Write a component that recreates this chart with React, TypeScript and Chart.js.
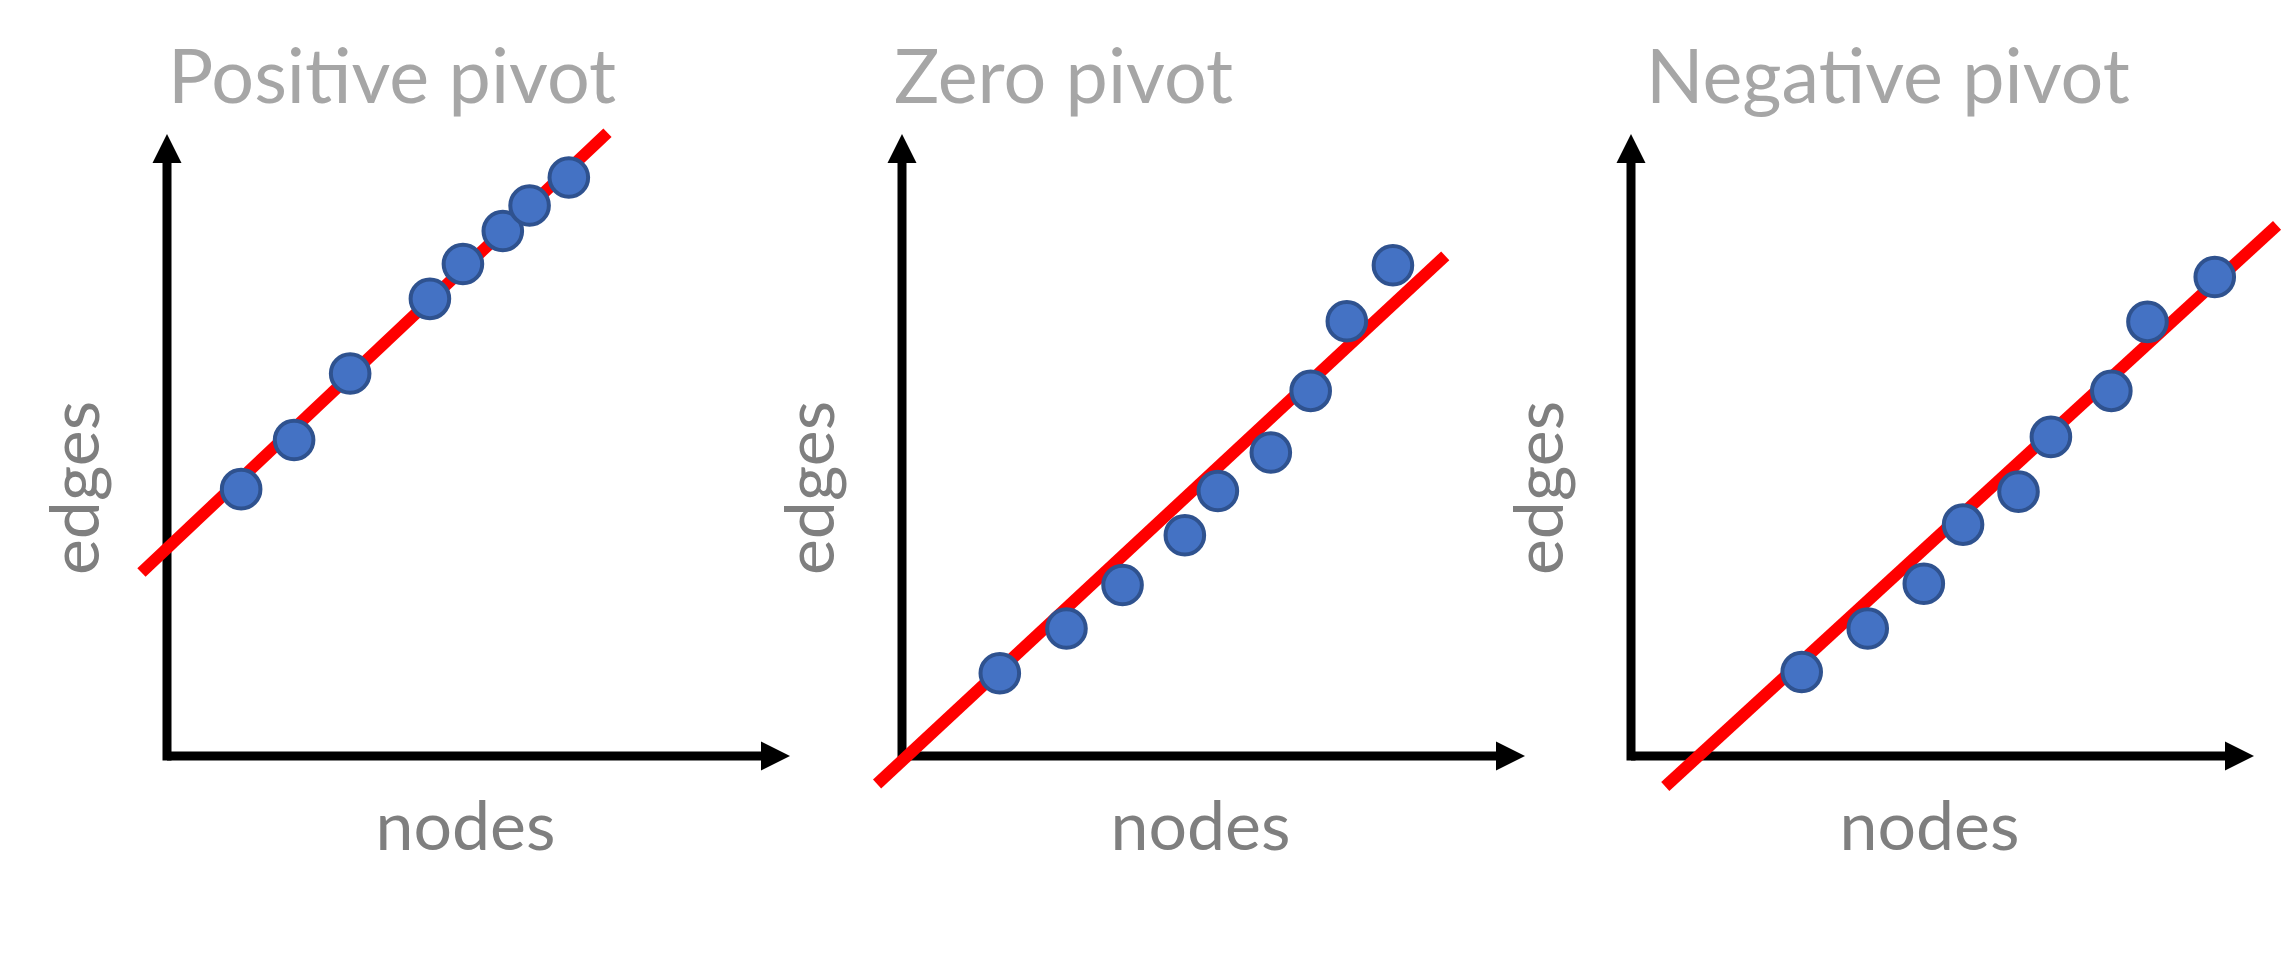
import React, { useEffect, useRef } from "react";
import { Chart, registerables } from "chart.js";

Chart.register(...registerables);

// ---- Data (abstract units; origin = axis intersection, axis length = 10) ----
const TITLES = ["Positive pivot", "Zero pivot", "Negative pivot"];
const X_LABEL = "nodes";
const Y_LABEL = "edges";

const P1_X = [1.19, 2.04, 2.94, 4.22, 4.75, 5.39, 5.82, 6.45];
const P1_Y = [4.29, 5.08, 6.15, 7.35, 7.91, 8.44, 8.85, 9.3];
const FIT1_X = [-0.41, 7.07];
const FIT1_Y = [2.95, 10.02];

const P2_X = [1.57, 2.64, 3.54, 4.54, 5.07, 5.92, 6.56, 7.14, 7.88];
const P2_Y = [1.33, 2.05, 2.75, 3.55, 4.26, 4.88, 5.87, 6.99, 7.89];
const FIT2_X = [-0.4, 8.72];
const FIT2_Y = [-0.45, 8.04];

const P3_X = [2.74, 3.8, 4.7, 5.33, 6.22, 6.74, 7.71, 8.29, 9.37];
const P3_Y = [1.35, 2.05, 2.77, 3.72, 4.25, 5.13, 5.87, 6.98, 7.7];
const FIT3_X = [0.55, 10.37];
const FIT3_Y = [-0.49, 8.53];

const AXIS_MIN = 0;
const AXIS_MAX = 10;

const PANELS = [
  { title: TITLES[0], px: P1_X, py: P1_Y, fx: FIT1_X, fy: FIT1_Y },
  { title: TITLES[1], px: P2_X, py: P2_Y, fx: FIT2_X, fy: FIT2_Y },
  { title: TITLES[2], px: P3_X, py: P3_Y, fx: FIT3_X, fy: FIT3_Y },
];

// ---- Layout / style ----
const CANVAS_H = 976;
const PANEL_LEFT = [0, 735, 1464];
const PANEL_W = [800, 800, 823];
const TITLE_LEFT = [168, 159, 182];
const AREA_LEFT = 167;
const AREA_TOP = 134;
const AREA_W = 623;
const AREA_BOTTOM = 756;
const FONT = "Lato, 'Open Sans', sans-serif";

const zip = (xs: number[], ys: number[]) => xs.map((x, i) => ({ x, y: ys[i] }));

const axesPlugin = {
  id: "arrowAxes",
  beforeDatasetsDraw(chart: any) {
    const { ctx, chartArea, scales } = chart;
    const ox = scales.x.getPixelForValue(AXIS_MIN);
    const oy = scales.y.getPixelForValue(AXIS_MIN);
    const top = chartArea.top;
    const right = chartArea.right;
    const lw = 9;
    const head = 29;
    const half = 14.5;
    ctx.save();
    ctx.fillStyle = "#000000";
    // y axis
    ctx.fillRect(ox - lw / 2, top + head - 1, lw, oy + lw / 2 - (top + head - 1));
    ctx.beginPath();
    ctx.moveTo(ox, top);
    ctx.lineTo(ox + half, top + head);
    ctx.lineTo(ox - half, top + head);
    ctx.closePath();
    ctx.fill();
    // x axis
    ctx.fillRect(ox, oy - lw / 2, right - head + 1 - ox, lw);
    ctx.beginPath();
    ctx.moveTo(right, oy);
    ctx.lineTo(right - head, oy - half);
    ctx.lineTo(right - head, oy + half);
    ctx.closePath();
    ctx.fill();
    ctx.restore();
  },
};

const makeTextPlugin = (idx: number) => ({
  id: "panelText" + idx,
  afterDraw(chart: any) {
    const { ctx, chartArea, scales } = chart;
    const ox = scales.x.getPixelForValue(AXIS_MIN);
    const cx = (chartArea.left + chartArea.right) / 2;
    ctx.save();
    // title
    ctx.fillStyle = "#A6A6A6";
    ctx.font = `75.5px ${FONT}`;
    ctx.textAlign = "left";
    ctx.textBaseline = "alphabetic";
    ctx.fillText(PANELS[idx].title, TITLE_LEFT[idx], 103);
    // x label
    ctx.fillStyle = "#7F7F7F";
    ctx.font = `68px ${FONT}`;
    ctx.textAlign = "center";
    ctx.fillText(X_LABEL, cx - 13, 850);
    // y label
    ctx.translate(ox - 68, 488);
    ctx.rotate(-Math.PI / 2);
    ctx.fillText(Y_LABEL, 0, 0);
    ctx.restore();
  },
});

function Panel({ idx }: { idx: number }) {
  const ref = useRef<HTMLCanvasElement | null>(null);
  useEffect(() => {
    if (!ref.current) return;
    const p = PANELS[idx];
    const w = PANEL_W[idx];
    const chart = new Chart(ref.current, {
      type: "scatter",
      data: {
        datasets: [
          {
            data: zip(p.px, p.py),
            backgroundColor: "#4472C4",
            borderColor: "#2F528F",
            borderWidth: 4,
            pointRadius: 19.3,
            pointHoverRadius: 19.3,
            clip: false,
          } as any,
          {
            type: "line",
            data: zip(p.fx, p.fy),
            borderColor: "#FF0000",
            borderWidth: 12,
            borderCapStyle: "butt",
            pointRadius: 0,
            showLine: true,
            fill: false,
            clip: false,
          } as any,
        ],
      },
      options: {
        animation: false,
        responsive: false,
        maintainAspectRatio: false,
        events: [],
        layout: {
          autoPadding: false,
          padding: {
            left: AREA_LEFT,
            top: AREA_TOP,
            right: w - AREA_LEFT - AREA_W,
            bottom: CANVAS_H - AREA_BOTTOM,
          },
        },
        scales: {
          x: { type: "linear", min: AXIS_MIN, max: AXIS_MAX, display: false },
          y: { type: "linear", min: AXIS_MIN, max: AXIS_MAX, display: false },
        },
        plugins: {
          legend: { display: false },
          tooltip: { enabled: false },
          title: { display: false },
        },
      },
      plugins: [axesPlugin, makeTextPlugin(idx)],
    });
    return () => chart.destroy();
  }, [idx]);
  return (
    <canvas
      ref={ref}
      width={PANEL_W[idx]}
      height={CANVAS_H}
      style={{ position: "absolute", left: PANEL_LEFT[idx], top: 0, width: PANEL_W[idx], height: CANVAS_H }}
    />
  );
}

export default function App() {
  useEffect(() => {
    document.body.style.margin = "0";
    document.body.style.background = "#ffffff";
  }, []);
  return (
    <div style={{ position: "relative", width: 2287, height: CANVAS_H, background: "#ffffff", overflow: "hidden" }}>
      <Panel idx={0} />
      <Panel idx={1} />
      <Panel idx={2} />
    </div>
  );
}
